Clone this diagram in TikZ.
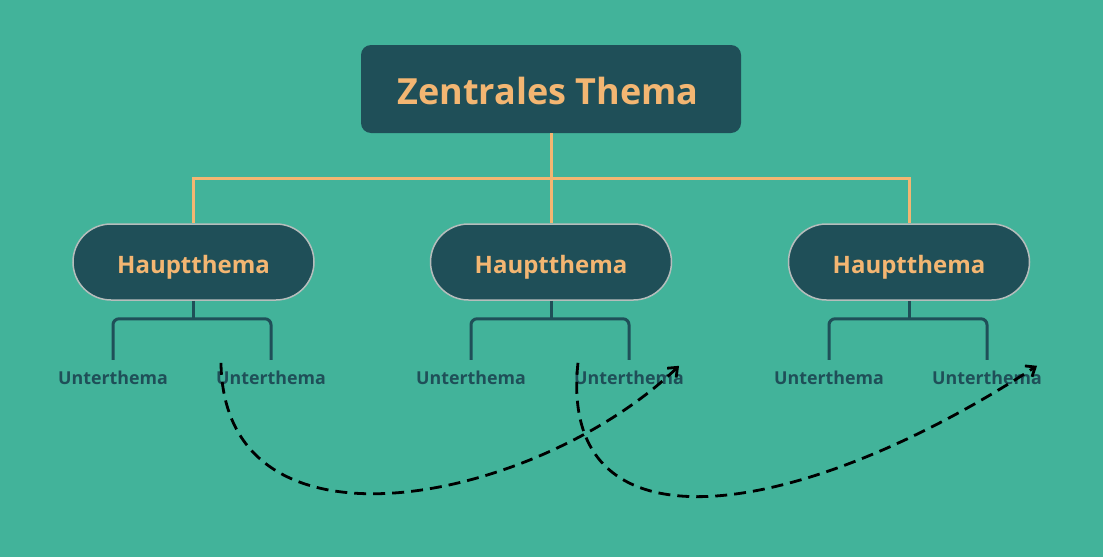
\documentclass[tikz,border=0pt]{standalone}
\usepackage{fontspec}
\setmainfont{Open Sans}
\usetikzlibrary{arrows.meta}
\definecolor{bg}{RGB}{66,179,154}
\definecolor{dark}{RGB}{31,79,88}
\definecolor{orng}{RGB}{243,182,114}
\definecolor{rim}{RGB}{182,189,188}
\begin{document}
\begin{tikzpicture}[x=1pt,y=-1pt,
  centralbox/.style={fill=dark, rounded corners=10pt, minimum width=380pt, minimum height=88pt, inner sep=0pt},
  mainbox/.style={fill=dark, draw=rim, line width=1.5pt, rounded corners=38pt, minimum width=241pt, minimum height=76pt, inner sep=0pt},
  centraltxt/.style={text=orng, font=\fontsize{36}{42}\selectfont\bfseries},
  maintxt/.style={text=orng, font=\fontsize{24}{28}\selectfont\bfseries},
  subtxt/.style={text=dark, font=\fontsize{17.8}{21}\selectfont\bfseries, text height=13pt, text depth=4pt, inner xsep=0pt, inner ysep=11pt},
  orline/.style={draw=orng, line width=3pt},
  dkline/.style={draw=dark, line width=3pt, rounded corners=6pt},
  relarrow/.style={draw=black, line width=2.8pt, dash pattern=on 12pt off 7pt, -{Straight Barb[length=8pt,width=13pt,line width=2.8pt]}}
]
\useasboundingbox (0,0) rectangle (1103,557);
\fill[bg] (0,0) rectangle (1103,557);

\node[centralbox] (c) at (551,89) {};
\node[centraltxt] (ct) at (548,91) {Zentrales Thema};

\node[mainbox] (h1) at (193.5,262) {};
\node[mainbox] (h2) at (551,262) {};
\node[mainbox] (h3) at (909,262) {};
\foreach \h in {h1,h2,h3}{
  \node[maintxt] (\h t) at ([yshift=-5]\h.center) {Hauptthema};
}

\draw[orline] (c.south) -- ++(0,45) -| (h1.north);
\draw[orline] (c.south) -- ++(0,45) -| (h3.north);
\draw[orline] (c.south) -- (h2.north);

\node[subtxt] (u11) at (113,379.5) {Unterthema};
\node[subtxt] (u12) at (271,379.5) {Unterthema};
\node[subtxt] (u21) at (471,379.5) {Unterthema};
\node[subtxt] (u22) at (629,379.5) {Unterthema};
\node[subtxt] (u31) at (829,379.5) {Unterthema};
\node[subtxt] (u32) at (987,379.5) {Unterthema};

\foreach \h/\a/\b in {h1/u11/u12, h2/u21/u22, h3/u31/u32}{
  \draw[dkline] (\a.north) -- ++(0,-41) -- ([yshift=41]\b.north) -- (\b.north);
  \draw[dkline] (\h.south) -- ++(0,19);
}

\draw[relarrow] ([shift={(5,3)}]u12.north west) .. controls (224,570) and (540,500) .. ([shift={(-5,6)}]u22.north east);
\draw[relarrow] ([shift={(4,3)}]u22.north west) .. controls (557,560) and (800,520) .. ([shift={(-5,6)}]u32.north east);
\end{tikzpicture}
\end{document}
